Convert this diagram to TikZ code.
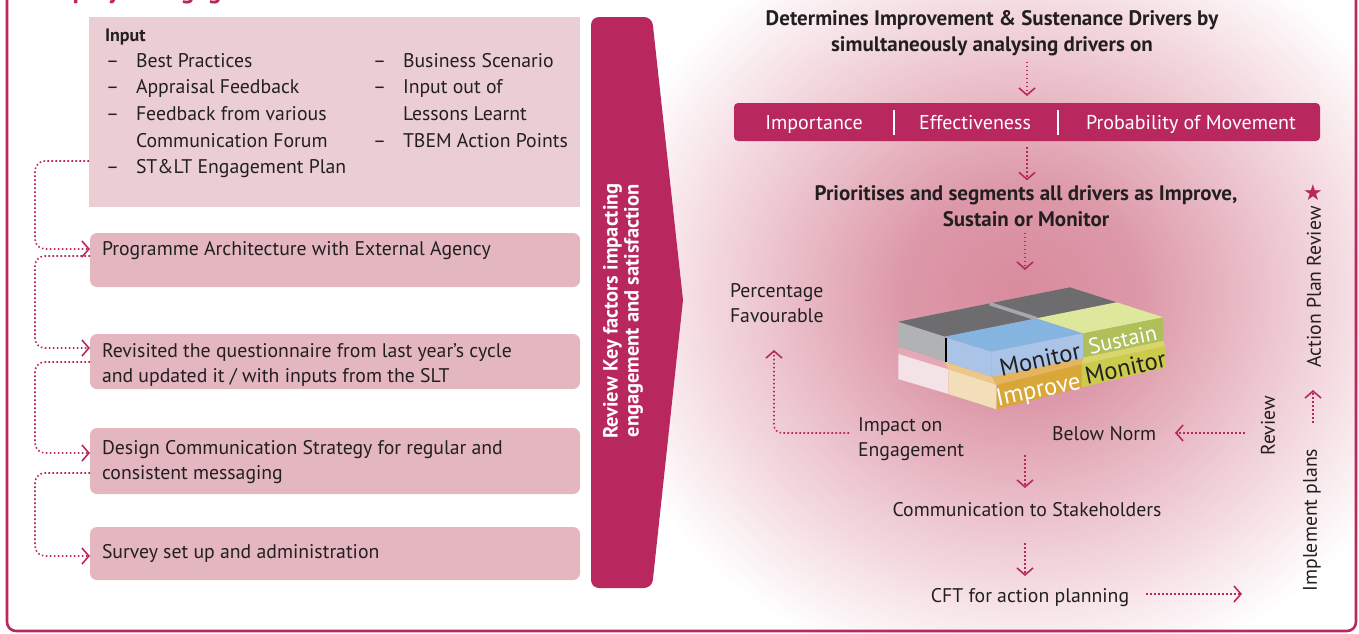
\documentclass[tikz,border=0pt]{standalone}
\usepackage{fontspec}
\setmainfont{PT Sans}
\newfontfamily\symbolfont{DejaVu Sans}
\usetikzlibrary{arrows.meta}

\definecolor{brand}{HTML}{B8285F}
\definecolor{inputfill}{HTML}{EBCED3}
\definecolor{stepfill}{HTML}{E3B6C0}
\definecolor{ink}{HTML}{231F20}
\definecolor{glowcore}{RGB}{216,139,157}
\definecolor{glowmid}{RGB}{231,180,192}

% radial glow: the path's edge sits at 25bp
\pgfdeclareradialshading{glow}{\pgfpoint{0bp}{0bp}}{%
  color(0bp)=(glowcore); color(7bp)=(glowcore!88!white);
  color(15bp)=(glowmid!75!white); color(25bp)=(white); color(50bp)=(white)}

\begin{document}
\begin{tikzpicture}[x=1pt,y=-1pt,
  every node/.style={inner sep=0pt,outer sep=0pt,text=ink},
  body/.style={font=\fontsize{19.75}{25}\selectfont},
  head/.style={font=\fontsize{21}{26}\selectfont\bfseries,align=center},
  bartext/.style={font=\fontsize{20}{22}\selectfont,text=white,anchor=base},
  stepbox/.style={fill=stepfill,rounded corners=7pt,minimum width=490pt,anchor=north west},
  dotline/.style={draw=brand,line width=1.6pt,dash pattern=on 1.6pt off 2.4pt},
  flow/.style={dotline,-{Straight Barb[length=7pt,width=16pt]}},
  facetext/.style={font=\fontsize{24.5}{25}\selectfont,rotate=12},
]
\useasboundingbox (0,0) rectangle (1359,633);
\clip (0,0) rectangle (1359,633);

% soft pink glow behind the analysis flow
\shade[shading=glow] (1020,295) ellipse (430pt and 390pt);

% outer frame and heading
\draw[brand,line width=2.6pt,rounded corners=9pt] (7,-40) rectangle (1356,631);
\node[anchor=base west,font=\fontsize{26}{30}\selectfont\bfseries,text=brand] (title) at (38,-2) {Employee Engagement};

% ---------------- input panel ----------------
\node[fill=inputfill,anchor=north west,minimum width=491pt,minimum height=190pt] (inp) at (89,17) {};
\node[anchor=base west,font=\fontsize{18}{22}\selectfont\bfseries] (inhead) at (105,41) {Input};
\foreach \yy/\tt in {67/Best Practices,93/Appraisal Feedback,120/Feedback from various,147/Communication Forum,173/ST\&LT Engagement Plan}
  {\node[body,anchor=base west] at (136,\yy) {\tt};}
\foreach \yy in {67,93,120,173}
  {\node[body,anchor=base west] at (106,\yy) {--};}
\foreach \yy/\tt in {67/Business Scenario,93/Input out of,120/Lessons Learnt,147/TBEM Action Points}
  {\node[body,anchor=base west] at (403,\yy) {\tt};}
\foreach \yy in {67,93,147}
  {\node[body,anchor=base west] at (373,\yy) {--};}

% ---------------- process steps ----------------
\node[stepbox,minimum height=54pt] (s1) at (90,233) {};
\node[stepbox,minimum height=55pt] (s2) at (90,334) {};
\node[stepbox,minimum height=66pt] (s3) at (90,428) {};
\node[stepbox,minimum height=53pt] (s4) at (90,527) {};
\node[body,anchor=base west] at (102,255) {Programme Architecture with External Agency};
\node[body,anchor=base west] at (102,357) {Revisited the questionnaire from last year’s cycle};
\node[body,anchor=base west] at (102,382) {and updated it / with inputs from the SLT};
\node[body,anchor=base west] at (102,454) {Design Communication Strategy for regular and};
\node[body,anchor=base west] at (102,479) {consistent messaging};
\node[body,anchor=base west] at (102,558) {Survey set up and administration};

\draw[flow,rounded corners=10pt] (inp.west |- 0,161) -- (35,161) -- (35,249) -- (s1.west |- 0,249);
\draw[flow,rounded corners=10pt] (s1.west |- 0,256) -- (35,256) -- (35,348) -- (s2.west |- 0,348);
\draw[flow,rounded corners=10pt] (s2.west |- 0,362) -- (35,362) -- (35,453) -- (s3.west |- 0,453);
\draw[flow,rounded corners=10pt] (s3.west |- 0,473) -- (35,473) -- (35,556) -- (s4.west |- 0,556);

% ---------------- review band ----------------
\fill[brand] (591,300) [rounded corners=8pt] -- (591,17) -- (652,17) [sharp corners] -- (683,300)
  [rounded corners=8pt] -- (652,588) -- (591,588) [sharp corners] -- cycle;
\node[rotate=90,font=\fontsize{20.5}{21}\selectfont\bfseries,text=white,align=center] (band) at (623,311)
  {Review Key factors impacting\\engagement and satisfaction};

% ---------------- driver analysis ----------------
\node[head] (drivers) at (992,33) {Determines Improvement \& Sustenance Drivers by\\simultaneously analysing drivers on};
\node[fill=brand,rounded corners=4pt,minimum width=586pt,minimum height=38pt] (bar) at (1027,122) {};
\node[bartext] (imp) at (814,129) {Importance};
\node[bartext] (eff) at (975,129) {Effectiveness};
\node[bartext] (prob) at (1191,129) {Probability of Movement};
\draw[white,line width=1.5pt] (894,110) -- (894,135);
\draw[white,line width=1.5pt] (1058,110) -- (1058,135);
\node[head] (prio) at (1026,206) {Prioritises and segments all drivers as Improve,\\Sustain or Monitor};
\coordinate (blocktop) at (1025,280);

\draw[flow,shorten <=6pt,shorten >=7pt] (drivers.south -| bar.north) -- (bar.north);
\draw[flow,shorten <=6pt,shorten >=5pt] (bar.south) -- (prio.north -| bar.south);
\draw[flow,shorten <=6pt,shorten >=10pt] (prio.south -| blocktop) -- (blocktop);

% ---------------- segmentation block ----------------
\begin{scope}[shift={(880,270)},scale=1/3]
  % lower tier
  \fill[fill={rgb,255:red,230;green,168;blue,181}] (55,230) -- (195,275) -- (205,298) -- (55,252) -- cycle;
  \fill[fill={rgb,255:red,244;green,227;blue,230}] (55,252) -- (205,298) -- (205,372) -- (55,327) -- cycle;
  \fill[fill={rgb,255:red,235;green,200;blue,136}] (195,275) -- (335,320) -- (350,345) -- (205,298) -- cycle;
  \fill[fill={rgb,255:red,243;green,222;blue,186}] (205,298) -- (350,345) -- (350,418) -- (205,372) -- cycle;
  \fill[fill={rgb,255:red,228;green,181;blue,94}] (335,318) -- (610,263) -- (605,283) -- (350,345) -- cycle;
  \fill[fill={rgb,255:red,217;green,166;blue,56}] (350,345) -- (605,283) -- (605,352) -- (350,418) -- cycle;
  \fill[fill={rgb,255:red,216;green,214;blue,107}] (610,262) -- (850,212) -- (855,228) -- (605,283) -- cycle;
  \fill[fill={rgb,255:red,203;green,204;blue,76}] (605,283) -- (855,228) -- (855,293) -- (605,352) -- cycle;
  % upper tier
  \fill[fill={rgb,255:red,177;green,178;blue,180}] (55,155) -- (195,200) -- (198,276) -- (55,230) -- cycle;
  \fill[fill={rgb,255:red,109;green,109;blue,111}] (55,155) -- (330,100) -- (470,145) -- (195,200) -- cycle;
  \fill[fill={rgb,255:red,109;green,109;blue,111}] (330,100) -- (570,52) -- (710,97) -- (470,145) -- cycle;
  \fill[fill={rgb,255:red,167;green,168;blue,170}] (330,96) -- (472,141) -- (470,152) -- (328,106) -- cycle;
  \fill[fill={rgb,255:red,169;green,196;blue,230}] (198,203) -- (335,245) -- (335,320) -- (200,276) -- cycle;
  \fill[fill={rgb,255:red,134;green,180;blue,225}] (195,200) -- (470,145) -- (610,190) -- (335,245) -- cycle;
  \fill[fill={rgb,255:red,169;green,196;blue,230}] (335,245) -- (610,190) -- (610,264) -- (335,320) -- cycle;
  \fill[fill={rgb,255:red,221;green,232;blue,156}] (470,145) -- (710,97) -- (850,142) -- (610,190) -- cycle;
  \fill[fill={rgb,255:red,175;green,192;blue,90}] (610,190) -- (850,142) -- (850,212) -- (610,262) -- cycle;
  \draw[black,line width=1.2pt] (198,203) -- (198,277);
  % segment labels
  \node[facetext] (segmon) at (480,268) {Monitor};
  \node[facetext,text=white,font=\fontsize{22}{22}\selectfont] (segsus) at (728,208) {Sustain};
  \node[facetext,text=white] (segimp) at (476,364) {Improve};
  \node[facetext] (segmon2) at (736,292) {Monitor};
\end{scope}

% ---------------- outcomes ----------------
\node[body,anchor=base west] (pct) at (730,297) {Percentage};
\node[body,anchor=base west] (fav) at (730,322) {Favourable};
\node[body,anchor=base west] (impact) at (858,431) {Impact on};
\node[body,anchor=base west] (engage) at (858,456) {Engagement};
\node[body,anchor=base west] (below) at (1052,440) {Below Norm};
\node[body,anchor=base] (comm) at (1027,516) {Communication to Stakeholders};
\node[body,anchor=base] (cft) at (1030,602) {CFT for action planning};
\node[body,rotate=90] (review) at (1268,426) {Review};
\node[body,rotate=90] (implement) at (1312,520) {Implement plans};
\node[body,rotate=90] (apr) at (1314,287) {Action Plan Review};
\node[font=\symbolfont\fontsize{22}{22}\selectfont,text=brand] (star) at (1313,193) {★};

\coordinate (pctturn) at (774,433);
\draw[flow,rounded corners=8pt] (impact.west |- pctturn) ++(-9,0) -- (pctturn) -- (774,350);
\draw[flow] (1245,433) -- (1175,433);
\draw[flow] (1025,455) -- (1025,488);
\draw[flow] (1025,543) -- (1025,576);
\draw[flow] (1146,594) -- (1242,594);
\draw[flow] (1313,423) -- (1313,390);
\end{tikzpicture}
\end{document}
